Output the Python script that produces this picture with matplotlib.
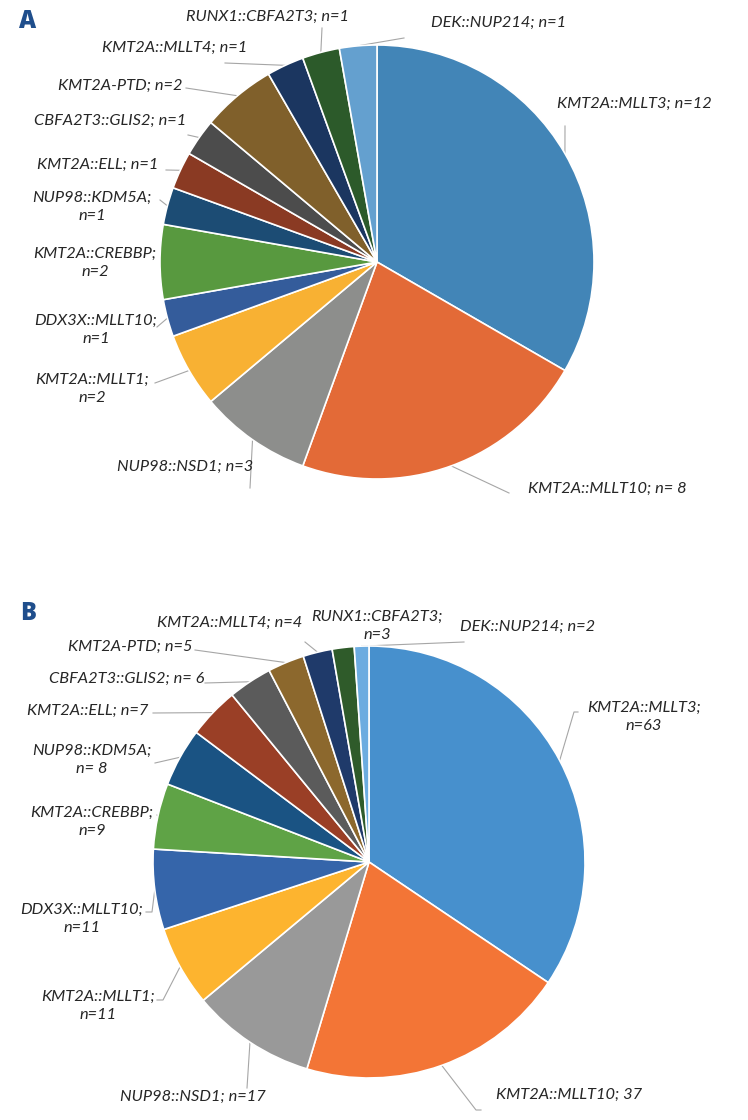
import numpy as np
import matplotlib
matplotlib.use("Agg")
import matplotlib.pyplot as plt

W, H = 748, 1120

# ---------------- data ----------------
fusions = ["KMT2A::MLLT3", "KMT2A::MLLT10", "NUP98::NSD1", "KMT2A::MLLT1",
           "DDX3X::MLLT10", "KMT2A::CREBBP", "NUP98::KDM5A", "KMT2A::ELL",
           "CBFA2T3::GLIS2", "KMT2A-PTD", "KMT2A::MLLT4", "RUNX1::CBFA2T3",
           "DEK::NUP214"]
counts_A = [12, 8, 3, 2, 1, 2, 1, 1, 1, 2, 1, 1, 1]
counts_B = [63, 37, 17, 11, 11, 9, 8, 7, 6, 5, 4, 3, 2]

labels_A = ["KMT2A::MLLT3; n=12", "KMT2A::MLLT10; n= 8", "NUP98::NSD1; n=3",
            "KMT2A::MLLT1;\nn=2", "DDX3X::MLLT10;\nn=1", "KMT2A::CREBBP;\nn=2",
            "NUP98::KDM5A;\nn=1", "KMT2A::ELL; n=1", "CBFA2T3::GLIS2; n=1",
            "KMT2A-PTD; n=2", "KMT2A::MLLT4; n=1", "RUNX1::CBFA2T3; n=1",
            "DEK::NUP214; n=1"]
labels_B = ["KMT2A::MLLT3;\nn=63", "KMT2A::MLLT10; 37", "NUP98::NSD1; n=17",
            "KMT2A::MLLT1;\nn=11", "DDX3X::MLLT10;\nn=11", "KMT2A::CREBBP;\nn=9",
            "NUP98::KDM5A;\nn= 8", "KMT2A::ELL; n=7", "CBFA2T3::GLIS2; n= 6",
            "KMT2A-PTD; n=5", "KMT2A::MLLT4; n=4", "RUNX1::CBFA2T3;\nn=3",
            "DEK::NUP214; n=2"]

colors_A = ["#4285B7", "#E36A37", "#8D8E8C", "#F8B133", "#345C9B", "#58993F",
            "#1C4C74", "#8A3A23", "#4C4C4C", "#80602B", "#1B3660", "#2C5A2A",
            "#64A0CF"]
colors_B = ["#4790CD", "#F37536", "#999999", "#FDB42F", "#3565AA", "#5FA346",
            "#1A5383", "#9A3F26", "#5B5B5B", "#8C682D", "#1F3A6A", "#2F5B2A",
            "#6CACE0"]

# ---------------- layout (pixel coordinates, y down) ----------------
# label text centre and leader-line path (points after the pie-edge start)
layout_A = [
    ((634, 104), [(565, 126)]),
    ((607, 489), [(509, 493)]),
    ((185, 467), [(250, 488)]),
    ((92, 389), [(155, 383)]),
    ((96, 330), [(157, 327)]),
    ((95, 263), None),
    ((92, 207), [(160, 200)]),
    ((98, 165), [(166, 170)]),
    ((110, 121), [(188, 135)]),
    ((120, 86), [(186, 88)]),
    ((175, 48), [(225, 63)]),
    ((268, 17), [(322, 28)]),
    ((499, 23), [(404, 38)]),
]
layout_B = [
    ((644, 717), [(574, 712), (578, 712)]),
    ((569, 1095), [(476, 1110), (481, 1110)]),
    ((193, 1097), [(247, 1088)]),
    ((98, 1006), [(163, 1000), (157, 1000)]),
    ((82, 919), [(152, 912), (146, 912)]),
    ((92, 822), [(157, 815)]),
    ((92, 760), [(155, 763)]),
    ((88, 711), [(153, 713)]),
    ((127, 679), [(205, 683)]),
    ((130, 647), [(195, 650)]),
    ((230, 623), [(305, 642)]),
    ((377, 626), [(342, 648)]),
    ((528, 627), [(464, 642)]),
]

center_A, radius_A = (377, 262), 217
center_B, radius_B = (369, 862), 216

plt.rcParams['font.family'] = ['Lato', 'DejaVu Sans']
fig = plt.figure(figsize=(W / 100, H / 100), dpi=100)
ax = fig.add_axes([0, 0, 1, 1])


def py(y):
    return H - y


def draw_pie(counts, colors, labels, layout, center, radius):
    cx, cy = center[0], py(center[1])
    wedges, _ = ax.pie(counts, colors=colors, startangle=90, counterclock=False,
                       center=(cx, cy), radius=radius, frame=True,
                       wedgeprops=dict(edgecolor='white', linewidth=1.2))
    for w, lab, (tpos, path) in zip(wedges, labels, layout):
        ax.text(tpos[0], py(tpos[1]), lab, ha='center', va='center', style='italic',
                fontsize=11.8, color='#262626', linespacing=1.35)
        if path:
            mid = np.deg2rad((w.theta1 + w.theta2) / 2)
            xs = [cx + radius * np.cos(mid)]
            ys = [cy + radius * np.sin(mid)]
            for (px_, py_) in path:
                xs.append(px_)
                ys.append(py(py_))
            ax.plot(xs, ys, color='#A6A6A6', lw=0.8, zorder=0.5)


draw_pie(counts_A, colors_A, labels_A, layout_A, center_A, radius_A)
draw_pie(counts_B, colors_B, labels_B, layout_B, center_B, radius_B)

ax.set_xlim(0, W)
ax.set_ylim(0, H)
ax.set_aspect('auto')
ax.axis('off')

ax.text(28, py(22), "A", fontsize=17, fontweight='heavy', color='#1F4E8C',
        ha='center', va='center', family=['Open Sans', 'DejaVu Sans'])
ax.text(28, py(614), "B", fontsize=17, fontweight='heavy', color='#1F4E8C',
        ha='center', va='center', family=['Open Sans', 'DejaVu Sans'])

fig.savefig("out.png", dpi=100)
